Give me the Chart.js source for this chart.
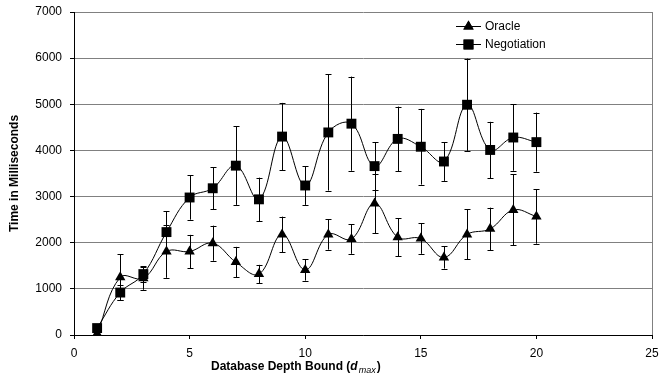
<!DOCTYPE html>
<html>
<head>
<meta charset="utf-8">
<script src="https://cdn.jsdelivr.net/npm/chart.js@4/dist/chart.umd.min.js"></script>
<style>
html,body{margin:0;padding:0;background:#fff;}
#wrap{width:659px;height:378px;position:relative;}
</style>
</head>
<body>
<div id="wrap"><canvas id="c" width="659" height="378"></canvas></div>
<script>
const depths = [1,2,3,4,5,6,7,8,9,10,11,12,13,14,15,16,17,18,19,20];
const oracleTimes = [30,1250,1230,1810,1810,1990,1580,1320,2180,1410,2180,2080,2850,2120,2090,1680,2180,2300,2710,2570];
const oracleErrors = [40,500,250,570,360,380,330,200,385,230,330,320,650,410,330,240,540,460,770,590];
const negotiationTimes = [150,920,1320,2230,2980,3180,3670,2940,4300,3240,4390,4580,3660,4250,4080,3760,4990,4010,4280,4180];
const negotiationErrors = [60,170,170,450,480,460,850,470,730,420,1260,1020,520,700,820,420,1000,610,720,640];
const seriesNames = ['Oracle','Negotiation'];
const yTitle = 'Time in Milliseconds';
const xTitleParts = ['Database Depth Bound (', 'd', 'max', ')'];

const FONT = '"Liberation Sans", Arial, sans-serif';

function pts(ys){ return depths.map((d,i)=>({x:d,y:ys[i]})); }

const errorBars = {
  id:'errorBars',
  afterDatasetsDraw(chart){
    const ctx = chart.ctx;
    const xs = chart.scales.x, ys = chart.scales.y;
    const errs = [oracleErrors, negotiationErrors];
    ctx.save();
    ctx.strokeStyle = '#000';
    ctx.lineWidth = 1;
    chart.data.datasets.forEach((ds,di)=>{
      ds.data.forEach((p,i)=>{
        const e = errs[di][i];
        const px = Math.round(xs.getPixelForValue(p.x)) + 0.5;
        const top = ys.getPixelForValue(p.y + e);
        const bot = ys.getPixelForValue(Math.max(0, p.y - e));
        ctx.beginPath();
        ctx.moveTo(px, top); ctx.lineTo(px, bot);
        ctx.moveTo(px-3, Math.round(top)+0.5); ctx.lineTo(px+3, Math.round(top)+0.5);
        ctx.moveTo(px-3, Math.round(bot)+0.5); ctx.lineTo(px+3, Math.round(bot)+0.5);
        ctx.stroke();
      });
    });
    ctx.restore();
  }
};

const decor = {
  id:'decor',
  beforeDatasetsDraw(chart){
    const ctx = chart.ctx, a = chart.chartArea;
    ctx.save();
    ctx.strokeStyle = '#808080';
    ctx.lineWidth = 1;
    ctx.beginPath();
    ctx.moveTo(Math.round(a.right)+0.5, a.top);
    ctx.lineTo(Math.round(a.right)+0.5, a.bottom);
    ctx.stroke();
    ctx.restore();
  },
  afterDraw(chart){
    const ctx = chart.ctx, a = chart.chartArea;
    ctx.save();
    ctx.fillStyle = '#000';
    // y title
    ctx.save();
    ctx.translate(15, (a.top + a.bottom)/2);
    ctx.rotate(-Math.PI/2);
    ctx.font = 'bold 12px ' + FONT;
    ctx.textAlign = 'center';
    ctx.textBaseline = 'middle';
    ctx.fillText(yTitle, 0, 0);
    ctx.restore();
    // x title
    ctx.textBaseline = 'alphabetic';
    ctx.textAlign = 'left';
    let x = 211; const y = 370;
    ctx.font = 'bold 12px ' + FONT;
    ctx.fillText(xTitleParts[0], x, y); x += ctx.measureText(xTitleParts[0]).width;
    ctx.font = 'italic bold 12px ' + FONT;
    ctx.fillText(xTitleParts[1], x, y); x += ctx.measureText(xTitleParts[1]).width + 1;
    ctx.font = 'italic 9px ' + FONT;
    ctx.fillText(xTitleParts[2], x, y + 3); x += ctx.measureText(xTitleParts[2]).width + 1;
    ctx.font = 'bold 12px ' + FONT;
    ctx.fillText(xTitleParts[3], x, y);
    // legend
    chart.data.datasets.forEach((ds,i)=>{
      const ly = 26 + i*18;
      const lx = a.right - 196;
      ctx.strokeStyle = '#000';
      ctx.lineWidth = 1;
      ctx.beginPath();
      ctx.moveTo(lx, ly+0.5); ctx.lineTo(lx+25, ly+0.5);
      ctx.stroke();
      Chart.helpers.drawPoint(ctx, {pointStyle: ds.pointStyle, radius: ds.pointRadius, rotation:0, borderWidth:0}, lx+12.5, ly+0.5);
      ctx.fillStyle = '#000';
      ctx.fill();
      ctx.font = '12px ' + FONT;
      ctx.textBaseline = 'middle';
      ctx.fillText(ds.label, lx + 29, ly + 0.5);
    });
    ctx.restore();
  }
};

new Chart(document.getElementById('c'), {
  type:'line',
  data:{
    datasets:[
      {label:seriesNames[0], data:pts(oracleTimes), pointStyle:'triangle', pointRadius:6, pointHoverRadius:6,
       borderColor:'#000', backgroundColor:'#000', pointBackgroundColor:'#000', pointBorderColor:'#000', pointBorderWidth:0,
       borderWidth:1, tension:0.4, fill:false},
      {label:seriesNames[1], data:pts(negotiationTimes), pointStyle:'rect', pointRadius:7, pointHoverRadius:7,
       borderColor:'#000', backgroundColor:'#000', pointBackgroundColor:'#000', pointBorderColor:'#000', pointBorderWidth:0,
       borderWidth:1, tension:0.4, fill:false}
    ]
  },
  options:{
    responsive:false,
    animation:false,
    devicePixelRatio:1,
    layout:{padding:{left:0,right:4,top:12,bottom:0}},
    plugins:{legend:{display:false}, tooltip:{enabled:false}},
    scales:{
      x:{type:'linear', min:0, max:25,
         ticks:{stepSize:5, color:'#000', font:{family:FONT,size:12}, padding:7, maxRotation:0,
                callback:(v)=>String(v)},
         grid:{drawOnChartArea:false, drawTicks:true, tickLength:4, tickColor:'#000'},
         border:{color:'#000', width:1},
         afterFit(s){ s.height = 43; s.paddingLeft = 0; s.paddingRight = 0; }
      },
      y:{min:0, max:7000,
         ticks:{stepSize:1000, color:'#000', font:{family:FONT,size:12}, padding:8,
                callback:(v)=>String(v)},
         grid:{color:'#808080', tickLength:4, tickColor:'#000'},
         border:{color:'#000', width:1},
         afterFit(s){ s.width = 74; s.paddingTop = 0; s.paddingBottom = 0; }
      }
    }
  },
  plugins:[decor, errorBars]
});
</script>
</body>
</html>
